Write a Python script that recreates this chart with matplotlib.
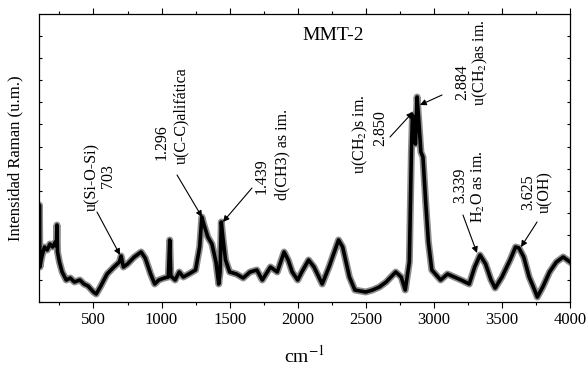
import matplotlib
matplotlib.use("Agg")
import matplotlib.pyplot as plt
from matplotlib.ticker import MultipleLocator, NullFormatter

plt.rcParams['font.family'] = ['Liberation Serif', 'DejaVu Serif']
plt.rcParams['mathtext.fontset'] = 'stix'

# Raman shift (cm-1) and intensity (arb. units)
shift = [100, 103, 107, 120, 140, 160, 180, 200, 220, 228, 232, 236, 250, 270, 300,
         330, 360, 400, 430, 460, 500, 520, 550, 600, 650, 690, 703, 720, 750, 800,
         850, 880, 920, 950, 980, 1020, 1050, 1060, 1068, 1100, 1130, 1160, 1200, 1250,
         1280, 1296, 1310, 1340, 1370, 1400, 1420, 1430, 1439, 1450, 1470, 1500, 1550,
         1600, 1650, 1700, 1740, 1800, 1850, 1900, 1930, 1960, 2000, 2030, 2080, 2120,
         2180, 2230, 2300, 2330, 2380, 2420, 2500, 2550, 2600, 2650, 2720, 2760, 2790,
         2820, 2835, 2843, 2855, 2865, 2877, 2890, 2905, 2920, 2940, 2960, 2985, 3050,
         3100, 3150, 3200, 3260, 3300, 3339, 3380, 3420, 3450, 3500, 3560, 3600, 3625,
         3660, 3700, 3740, 3760, 3800, 3850, 3900, 3950, 4000]
intensity = [40, 97, 35, 45, 55, 52, 58, 55, 60, 56, 77, 50, 40, 30, 22,
             24, 20, 22, 18, 16, 10, 8, 15, 28, 35, 40, 46, 35, 38, 45,
             50, 44, 28, 18, 22, 24, 25, 62, 26, 22, 30, 25, 28, 32,
             55, 85, 78, 65, 58, 40, 18, 30, 80, 65, 42, 30, 28,
             24, 30, 32, 22, 35, 30, 50, 42, 30, 22, 30, 42, 35,
             18, 35, 62, 55, 25, 12, 10, 12, 15, 20, 30, 25, 12,
             40, 150, 187, 165, 158, 205, 180, 150, 145, 100, 60, 32, 22,
             28, 25, 22, 18, 35, 47, 38, 22, 14, 25, 42, 55, 54,
             45, 25, 12, 5, 15, 30, 40, 45, 40]

# Annotation texts: (text, x, y) centres of rotated labels
labels = ["u(Si-O-Si)", "703", "1.296", "u(C-C)alifática", "1.439", "d(CH3) as im.",
          "u(CH$_2$)s im.", "2.850", "2.884", "u(CH$_2$)as im.", "3.339",
          "H$_2$O as im.", "3.625", "u(OH)"]
label_x = [489, 607, 1003, 1143, 1738, 1885, 2458, 2605, 3207, 3339, 3192, 3330, 3692, 3816]
label_y = [125, 126, 160, 186, 126, 147, 168, 174, 220, 239, 117, 115, 110, 110]

# Arrows: tail (x, y) -> head (x, y)
arrow_tail_x = [526, 1114, 1664, 2678, 3060, 3214, 3758]
arrow_tail_y = [90, 127, 114, 165, 207, 87, 80]
arrow_head_x = [695, 1297, 1451, 2847, 2898, 3317, 3640]
arrow_head_y = [47, 85, 80, 190, 197, 49, 55]

fig = plt.figure(figsize=(5.86, 3.71), dpi=100)
ax = fig.add_axes([39/586, 69/371, 531/586, 288/371])

ax.plot(shift, intensity, color='#8c8c8c', lw=5.0, solid_joinstyle='round', zorder=2)
ax.plot(shift, intensity, color='black', lw=2.6, solid_joinstyle='round', zorder=3)

ax.set_xlim(100, 4000)
ax.set_ylim(0, 288)

ax.xaxis.set_major_locator(MultipleLocator(500))
ax.xaxis.set_minor_locator(MultipleLocator(250))
ax.yaxis.set_major_locator(MultipleLocator(22.2))
ax.yaxis.set_major_formatter(NullFormatter())
ax.tick_params(axis='x', which='both', direction='out', top=True, labelsize=12, length=4, width=0.8)
ax.tick_params(axis='x', which='minor', length=2.5)
ax.tick_params(axis='y', which='both', direction='in', right=True, length=2.5, width=0.8)
for s in ax.spines.values():
    s.set_linewidth(0.9)

ax.set_xlabel("cm$^{-1}$", fontsize=14, labelpad=12)
ax.set_ylabel("Intensidad Raman (u.m.)", fontsize=12, labelpad=8)

ax.text(2259, 267, "MMT-2", fontsize=14, ha='center', va='center')

for t, x, y in zip(labels, label_x, label_y):
    ax.text(x, y, t, rotation=90, fontsize=11.5, ha='center', va='center')

for tx, ty, hx, hy in zip(arrow_tail_x, arrow_tail_y, arrow_head_x, arrow_head_y):
    ax.annotate('', xy=(hx, hy), xytext=(tx, ty),
                arrowprops=dict(arrowstyle='-|>', color='black', lw=0.8,
                                mutation_scale=9, shrinkA=0, shrinkB=0), zorder=5)

fig.savefig("out.png", dpi=100)
